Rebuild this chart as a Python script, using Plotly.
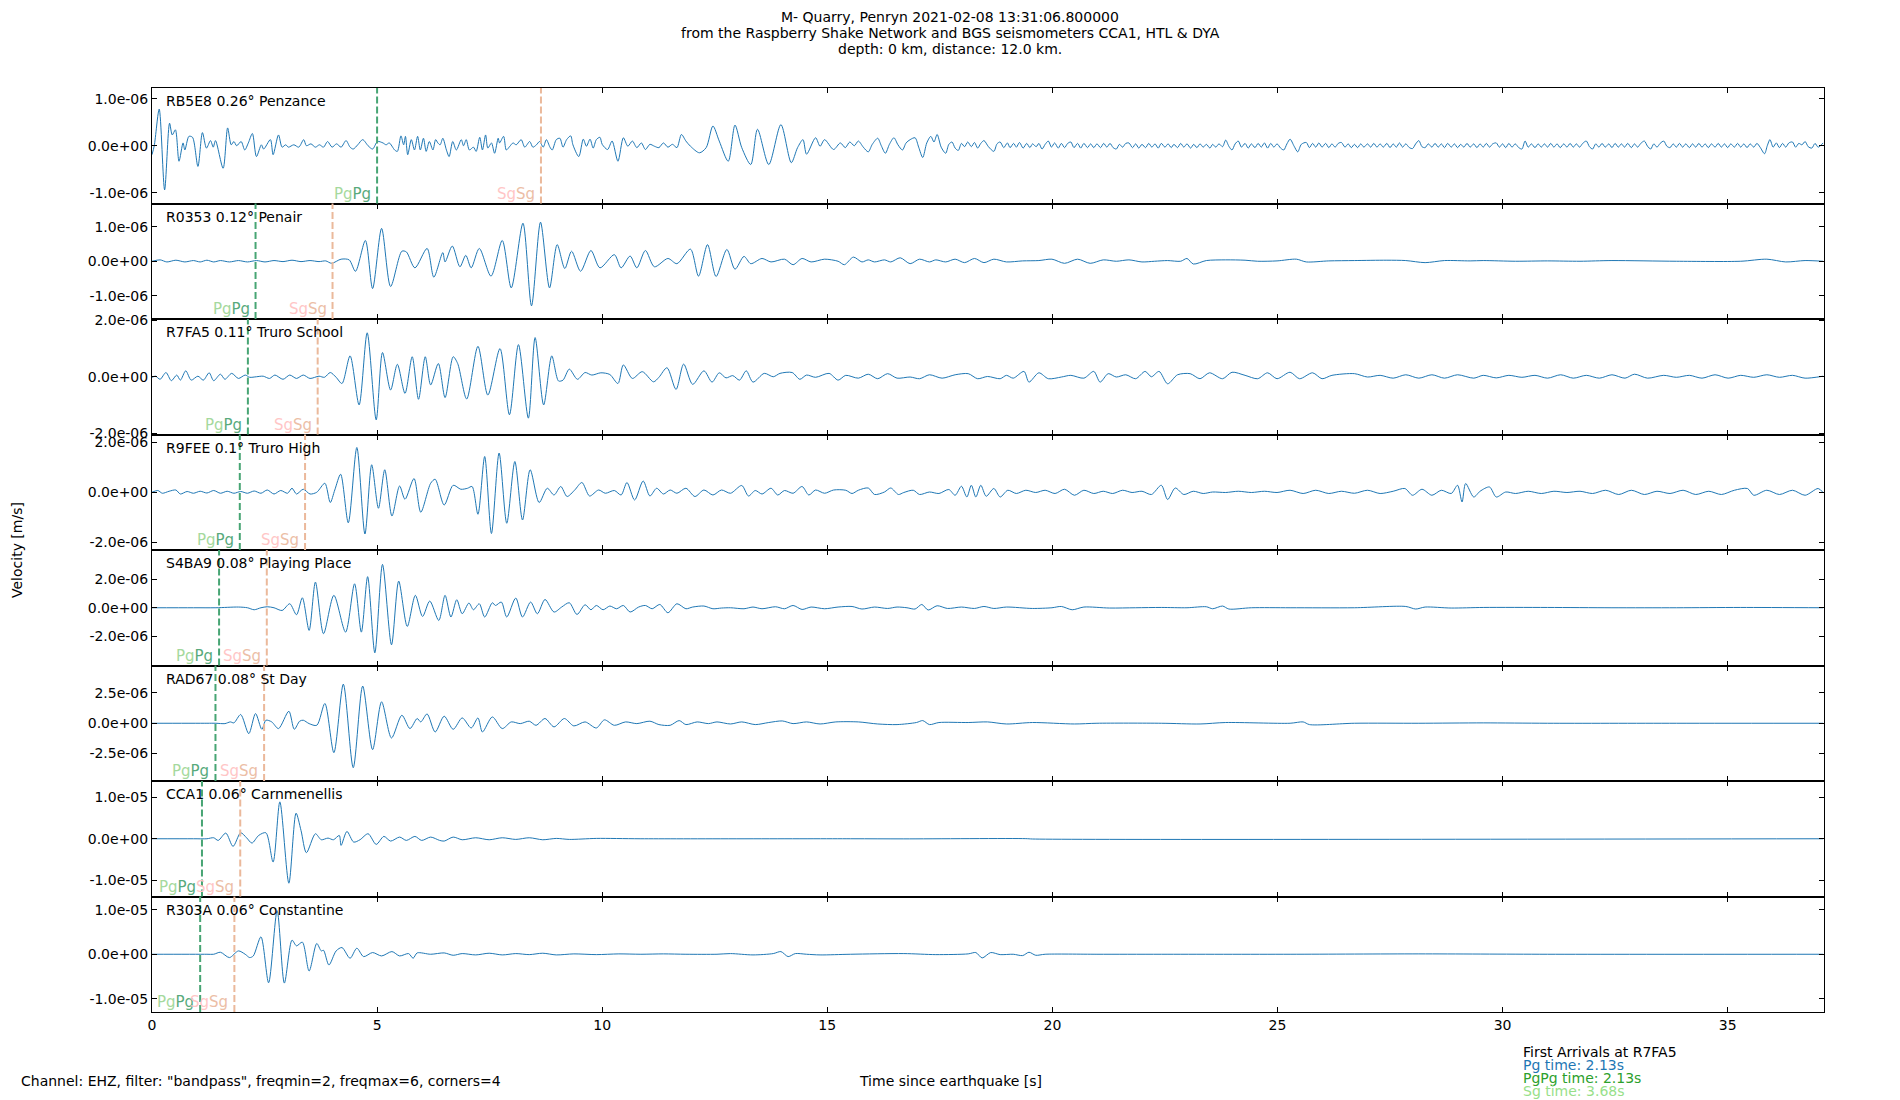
import plotly.graph_objects as go
from plotly.subplots import make_subplots

# velocity records, (time since earthquake [s], velocity [um/s])
rb5e8 = [(0.0, -0.19), (0.05, 0.0), (0.16, 0.78), (0.28, -0.94), (0.39, 0.48), (0.45, 0.23), (0.52, 0.34), (0.6, -0.33),
         (0.69, 0.06), (0.73, -0.09), (0.82, 0.2), (0.9, 0.18), (1.02, -0.44), (1.12, 0.28), (1.21, -0.05), (1.3, 0.11),
         (1.36, -0.03), (1.41, 0.11), (1.58, -0.48), (1.68, 0.38), (1.76, 0.02), (1.82, 0.09), (1.88, 0.0), (1.98, 0.09),
         (2.06, -0.09), (2.14, 0.06), (2.23, 0.26), (2.32, -0.23), (2.43, 0.02), (2.48, -0.07), (2.63, 0.13), (2.69, -0.19),
         (2.81, 0.23), (2.89, -0.03), (2.97, 0.02), (3.03, -0.03), (3.15, 0.02), (3.26, -0.03), (3.37, 0.13), (3.43, 0.0),
         (3.53, 0.04), (3.63, -0.03), (3.72, 0.02), (3.81, -0.03), (3.9, 0.09), (4.0, -0.03), (4.1, 0.04), (4.2, -0.03),
         (4.31, 0.11), (4.4, -0.03), (4.47, -0.07), (4.57, 0.02), (4.68, 0.13), (4.8, 0.0), (4.9, -0.07), (5.01, 0.09),
         (5.13, 0.06), (5.2, 0.02), (5.27, 0.06), (5.39, -0.09), (5.45, -0.12), (5.53, 0.21), (5.59, 0.02), (5.63, 0.2),
         (5.68, -0.19), (5.76, 0.13), (5.83, -0.09), (5.9, 0.2), (5.96, -0.09), (6.03, 0.16), (6.09, -0.12), (6.16, 0.09),
         (6.24, -0.09), (6.3, 0.13), (6.35, 0.06), (6.4, 0.02), (6.46, 0.16), (6.54, -0.09), (6.6, -0.23), (6.68, 0.09),
         (6.76, -0.09), (6.87, 0.13), (6.92, 0.0), (6.98, 0.13), (7.05, -0.09), (7.14, -0.03), (7.2, -0.12), (7.28, 0.18),
         (7.34, -0.09), (7.41, 0.23), (7.46, -0.05), (7.54, 0.06), (7.61, -0.16), (7.69, 0.16), (7.72, 0.06), (7.81, 0.2),
         (7.87, -0.09), (7.95, -0.01), (8.02, 0.06), (8.09, 0.02), (8.2, 0.13), (8.28, -0.03), (8.39, 0.09), (8.46, -0.03),
         (8.54, 0.02), (8.61, 0.09), (8.69, -0.03), (8.76, 0.13), (8.84, -0.03), (8.89, -0.09), (8.98, 0.13), (9.06, 0.16),
         (9.13, -0.03), (9.21, 0.13), (9.3, 0.21), (9.35, 0.02), (9.48, -0.23), (9.58, 0.14), (9.65, -0.01), (9.73, 0.14),
         (9.8, -0.05), (9.87, 0.13), (9.95, 0.18), (10.0, 0.03), (10.12, -0.08), (10.22, 0.1), (10.35, -0.33), (10.47, 0.17),
         (10.57, -0.01), (10.67, 0.1), (10.77, -0.04), (10.87, 0.06), (10.96, -0.08), (11.06, 0.03), (11.16, -0.01),
         (11.26, -0.04), (11.36, 0.06), (11.46, -0.03), (11.56, 0.03), (11.66, -0.04), (11.76, 0.24), (11.86, 0.1),
         (11.96, -0.01), (12.16, -0.15), (12.31, -0.04), (12.46, 0.42), (12.6, 0.1), (12.8, -0.33), (12.95, 0.44),
         (13.1, -0.04), (13.3, -0.4), (13.45, 0.35), (13.7, -0.4), (13.97, 0.45), (14.2, -0.36), (14.34, -0.04),
         (14.46, 0.13), (14.54, -0.18), (14.74, 0.17), (14.84, -0.01), (14.94, 0.13), (15.14, -0.08), (15.29, 0.06),
         (15.4, -0.04), (15.5, 0.08), (15.6, 0.0), (15.69, 0.1), (15.8, -0.03), (15.91, -0.13), (16.0, 0.03), (16.12, 0.16),
         (16.2, 0.0), (16.29, -0.16), (16.38, 0.03), (16.48, 0.17), (16.57, 0.02), (16.67, -0.09), (16.75, 0.06),
         (16.84, 0.13), (16.95, 0.17), (17.03, -0.03), (17.12, -0.25), (17.21, 0.06), (17.3, 0.2), (17.37, 0.08),
         (17.44, 0.24), (17.53, -0.03), (17.63, -0.16), (17.7, 0.03), (17.77, 0.08), (17.84, -0.05), (17.91, -0.1),
         (17.98, 0.05), (18.05, -0.02), (18.12, 0.08), (18.2, -0.02), (18.27, 0.07), (18.34, -0.05), (18.41, 0.05),
         (18.48, 0.11), (18.58, -0.02), (18.7, -0.12), (18.77, 0.04), (18.84, 0.08), (18.92, -0.04), (19.0, 0.06),
         (19.06, -0.04), (19.14, 0.05), (19.2, -0.03), (19.27, 0.07), (19.35, -0.05), (19.43, 0.05), (19.5, -0.04),
         (19.56, 0.04), (19.64, -0.02), (19.7, 0.05), (19.77, -0.07), (19.84, 0.03), (19.91, 0.1), (19.98, -0.03),
         (20.05, 0.06), (20.13, -0.05), (20.2, 0.05), (20.27, -0.04), (20.34, 0.05), (20.41, 0.08), (20.48, -0.04),
         (20.56, 0.05), (20.63, -0.05), (20.7, 0.05), (20.78, -0.04), (20.85, 0.04), (20.92, -0.04), (20.99, 0.04),
         (21.07, -0.04), (21.14, 0.05), (21.21, -0.03), (21.28, 0.05), (21.35, -0.04), (21.42, -0.07), (21.49, 0.03),
         (21.56, -0.03), (21.63, 0.05), (21.7, 0.06), (21.78, -0.04), (21.85, 0.04), (21.92, -0.05), (21.99, 0.03),
         (22.07, -0.04), (22.14, 0.05), (22.21, -0.03), (22.28, 0.04), (22.35, -0.05), (22.42, 0.05), (22.5, -0.03),
         (22.57, 0.04), (22.64, -0.04), (22.7, 0.03), (22.78, -0.04), (22.85, 0.05), (22.92, -0.03), (22.99, 0.04),
         (23.07, -0.05), (23.14, 0.03), (23.21, -0.04), (23.28, 0.04), (23.35, -0.03), (23.42, 0.03), (23.5, -0.05),
         (23.56, 0.03), (23.63, -0.03), (23.7, 0.04), (23.78, -0.02), (23.85, 0.12), (23.92, -0.01), (23.99, -0.09),
         (24.06, 0.04), (24.13, 0.1), (24.2, -0.03), (24.28, 0.05), (24.35, -0.05), (24.42, 0.04), (24.5, -0.04),
         (24.57, 0.05), (24.64, -0.03), (24.71, 0.06), (24.78, -0.05), (24.85, 0.05), (24.92, -0.03), (24.99, 0.04),
         (25.07, -0.05), (25.14, -0.09), (25.21, 0.04), (25.28, 0.14), (25.37, -0.01), (25.45, -0.13), (25.53, 0.03),
         (25.64, 0.07), (25.71, -0.04), (25.78, 0.05), (25.85, -0.03), (25.92, 0.06), (25.99, -0.03), (26.07, 0.05),
         (26.14, -0.04), (26.21, 0.04), (26.28, -0.03), (26.35, 0.05), (26.42, 0.07), (26.5, -0.03), (26.57, 0.04),
         (26.64, -0.04), (26.71, 0.03), (26.78, -0.04), (26.85, 0.04), (26.92, -0.03), (27.0, 0.04), (27.07, -0.03),
         (27.14, 0.05), (27.21, -0.03), (27.28, 0.04), (27.35, -0.03), (27.43, 0.05), (27.5, -0.04), (27.57, 0.04),
         (27.64, -0.03), (27.71, 0.06), (27.78, -0.03), (27.85, 0.04), (27.93, -0.04), (28.0, -0.06), (28.07, 0.04),
         (28.14, 0.11), (28.21, -0.02), (28.28, -0.04), (28.35, 0.04), (28.43, -0.03), (28.5, 0.05), (28.57, -0.03),
         (28.64, 0.04), (28.71, -0.04), (28.78, 0.05), (28.86, -0.03), (28.93, 0.04), (29.0, -0.04), (29.07, 0.03),
         (29.14, -0.03), (29.21, 0.05), (29.28, -0.03), (29.36, 0.04), (29.43, -0.04), (29.5, 0.04), (29.57, -0.03),
         (29.64, 0.05), (29.71, -0.03), (29.78, 0.04), (29.86, 0.06), (29.93, -0.03), (30.0, 0.04), (30.07, -0.04),
         (30.14, 0.05), (30.21, -0.03), (30.28, 0.04), (30.36, -0.04), (30.43, -0.07), (30.5, 0.1), (30.57, -0.03),
         (30.64, 0.04), (30.72, -0.04), (30.79, 0.04), (30.86, -0.03), (30.93, 0.04), (31.0, -0.03), (31.07, 0.05),
         (31.14, -0.03), (31.21, 0.04), (31.28, -0.04), (31.36, 0.04), (31.43, -0.03), (31.5, 0.05), (31.57, -0.03),
         (31.64, 0.04), (31.71, -0.03), (31.78, 0.05), (31.86, 0.1), (31.93, -0.02), (32.0, -0.07), (32.07, 0.04),
         (32.14, -0.03), (32.21, 0.05), (32.28, -0.03), (32.36, 0.04), (32.43, -0.04), (32.5, 0.05), (32.57, -0.03),
         (32.64, 0.04), (32.71, -0.03), (32.78, 0.05), (32.86, -0.04), (32.93, 0.04), (33.0, -0.03), (33.07, 0.05),
         (33.15, 0.1), (33.22, -0.01), (33.29, -0.07), (33.36, 0.04), (33.43, -0.03), (33.5, 0.05), (33.58, 0.1),
         (33.65, -0.01), (33.72, -0.04), (33.79, 0.04), (33.86, -0.03), (33.93, 0.05), (34.0, -0.03), (34.07, 0.04),
         (34.15, -0.04), (34.22, 0.04), (34.29, -0.03), (34.36, 0.05), (34.43, -0.03), (34.5, 0.04), (34.57, -0.04),
         (34.64, 0.04), (34.72, -0.03), (34.79, 0.05), (34.86, -0.03), (34.93, 0.04), (35.0, -0.04), (35.07, 0.04),
         (35.15, -0.03), (35.22, 0.05), (35.29, -0.03), (35.36, 0.04), (35.43, -0.04), (35.5, 0.04), (35.58, -0.03),
         (35.65, 0.05), (35.72, -0.03), (35.82, -0.17), (35.88, 0.0), (35.94, 0.13), (36.01, -0.03), (36.08, 0.06),
         (36.15, -0.04), (36.22, 0.05), (36.29, -0.03), (36.36, 0.06), (36.44, 0.08), (36.51, -0.03), (36.58, 0.05),
         (36.65, 0.02), (36.72, 0.09), (36.79, -0.02), (36.87, -0.05), (36.94, 0.05), (37.01, -0.03), (37.12, 0.06)]

r0353 = [(0.0, 0.0), (0.18, 0.04), (0.33, -0.02), (0.53, 0.03), (0.73, -0.02), (0.92, 0.02), (1.07, -0.02), (1.22, 0.03),
         (1.37, -0.02), (1.52, 0.02), (1.72, -0.02), (1.92, 0.02), (2.12, -0.02), (2.32, 0.02), (2.51, -0.02), (2.71, 0.02),
         (2.91, -0.01), (3.11, 0.03), (3.31, -0.01), (3.51, 0.02), (3.71, -0.01), (3.86, 0.01), (3.99, -0.06), (4.2, 0.06),
         (4.38, 0.04), (4.52, -0.29), (4.74, 0.6), (4.9, -0.79), (5.1, 0.95), (5.3, -0.73), (5.55, 0.29), (5.65, 0.27),
         (5.84, -0.19), (6.11, 0.37), (6.26, -0.46), (6.46, 0.25), (6.51, -0.02), (6.67, 0.44), (6.84, -0.16), (6.97, 0.17),
         (7.09, -0.19), (7.27, 0.37), (7.53, -0.43), (7.78, 0.6), (7.98, -0.77), (8.24, 1.1), (8.43, -1.29), (8.63, 1.13),
         (8.83, -0.77), (9.0, 0.48), (9.17, -0.21), (9.32, 0.29), (9.52, -0.29), (9.75, 0.31), (9.95, -0.19), (10.27, 0.19),
         (10.42, -0.19), (10.62, 0.15), (10.77, -0.19), (10.96, 0.31), (11.16, -0.16), (11.46, 0.08), (11.66, -0.07),
         (11.96, 0.35), (12.14, -0.43), (12.34, 0.48), (12.53, -0.44), (12.77, 0.34), (12.95, -0.23), (13.15, 0.14),
         (13.3, -0.07), (13.55, 0.08), (13.75, -0.02), (14.05, 0.06), (14.24, -0.1), (14.44, 0.08), (14.64, -0.02),
         (14.94, 0.06), (15.24, 0.0), (15.38, -0.1), (15.58, 0.12), (15.77, -0.02), (15.91, 0.04), (16.05, -0.02),
         (16.27, 0.04), (16.41, -0.02), (16.62, 0.1), (16.84, -0.07), (17.05, 0.06), (17.27, -0.02), (17.41, 0.04),
         (17.63, -0.02), (17.84, 0.06), (18.05, -0.04), (18.27, 0.08), (18.48, -0.04), (18.7, 0.06), (18.98, -0.02),
         (19.34, 0.01), (19.7, 0.02), (19.99, 0.06), (20.27, -0.06), (20.56, 0.06), (20.84, -0.06), (21.13, 0.04),
         (21.42, 0.0), (21.7, 0.04), (21.99, -0.02), (22.27, 0.0), (22.56, 0.02), (22.85, 0.0), (22.99, 0.08),
         (23.13, -0.08), (23.42, 0.02), (23.85, 0.04), (24.28, 0.03), (24.56, 0.0), (24.99, 0.01), (25.42, 0.06),
         (25.64, -0.02), (26.14, 0.01), (26.71, 0.02), (27.43, 0.03), (27.85, 0.02), (28.28, -0.04), (28.71, 0.02),
         (29.28, 0.01), (29.57, 0.02), (30.29, 0.0), (31.0, 0.01), (31.72, 0.0), (32.43, 0.02), (33.86, 0.0),
         (35.29, 0.0), (35.87, 0.06), (36.29, -0.02), (36.72, 0.02), (37.12, 0.0)]

r7fa5 = [(0.0, -0.02), (0.08, 0.02), (0.18, -0.09), (0.31, 0.15), (0.43, -0.14), (0.55, 0.06), (0.63, -0.12), (0.75, 0.21),
         (0.87, -0.12), (1.02, 0.02), (1.14, -0.12), (1.27, 0.14), (1.37, -0.14), (1.52, 0.09), (1.62, -0.09), (1.77, 0.12),
         (1.92, -0.06), (2.07, 0.06), (2.17, -0.02), (2.32, 0.0), (2.47, 0.02), (2.61, -0.06), (2.73, 0.06), (2.91, -0.09),
         (3.06, 0.06), (3.21, -0.06), (3.36, 0.06), (3.51, -0.06), (3.71, 0.02), (3.83, -0.02), (3.96, 0.15), (4.09, -0.02),
         (4.22, -0.24), (4.4, 0.74), (4.6, -1.0), (4.78, 1.56), (4.98, -1.53), (5.12, 0.86), (5.3, -0.47), (5.45, 0.44),
         (5.62, -0.59), (5.78, 0.71), (5.92, -0.8), (6.07, 0.71), (6.19, -0.29), (6.36, 0.47), (6.51, -0.74), (6.69, 0.71),
         (6.79, 0.47), (6.99, -0.79), (7.24, 1.08), (7.46, -0.65), (7.73, 1.0), (7.94, -1.35), (8.14, 1.14), (8.36, -1.47),
         (8.51, 1.39), (8.7, -1.0), (8.88, 0.74), (9.03, -0.15), (9.13, -0.12), (9.27, 0.27), (9.45, -0.09), (9.62, 0.15),
         (9.77, 0.06), (9.97, 0.14), (10.17, 0.08), (10.35, -0.24), (10.47, 0.42), (10.67, -0.06), (10.89, 0.18),
         (11.14, -0.18), (11.26, -0.02), (11.44, 0.32), (11.64, -0.45), (11.81, 0.45), (12.01, -0.27), (12.26, 0.21),
         (12.44, -0.19), (12.6, 0.14), (12.75, -0.04), (12.9, 0.04), (13.05, -0.12), (13.2, 0.21), (13.35, -0.19),
         (13.6, 0.12), (13.8, 0.0), (13.95, 0.12), (14.22, 0.15), (14.39, -0.09), (14.54, 0.06), (14.74, -0.02),
         (15.04, 0.12), (15.24, -0.12), (15.41, 0.05), (15.69, -0.05), (15.91, 0.09), (16.12, -0.07), (16.34, 0.11),
         (16.55, -0.05), (16.84, -0.01), (17.05, -0.07), (17.27, 0.07), (17.55, -0.05), (17.84, 0.07), (18.13, 0.11),
         (18.34, -0.07), (18.56, 0.01), (18.84, -0.07), (18.98, 0.05), (19.13, -0.05), (19.37, 0.19), (19.48, -0.19),
         (19.7, 0.14), (19.91, -0.07), (20.2, -0.01), (20.41, 0.05), (20.7, -0.05), (20.92, 0.19), (21.06, -0.19),
         (21.24, 0.11), (21.42, -0.01), (21.63, 0.07), (21.85, -0.07), (22.06, 0.19), (22.2, 0.0), (22.37, 0.19),
         (22.56, -0.25), (22.78, 0.07), (23.06, 0.11), (23.28, -0.07), (23.49, 0.14), (23.78, -0.07), (23.99, 0.16),
         (24.28, 0.05), (24.56, -0.07), (24.78, 0.14), (24.99, -0.07), (25.28, 0.16), (25.49, -0.07), (25.78, 0.14),
         (25.99, -0.07), (26.21, 0.05), (26.71, 0.11), (27.0, -0.01), (27.28, 0.05), (27.57, -0.05), (27.85, 0.07),
         (28.14, -0.05), (28.43, 0.07), (28.71, -0.05), (29.0, 0.07), (29.36, -0.05), (29.57, 0.05), (29.86, -0.04),
         (30.14, 0.05), (30.43, -0.02), (30.72, 0.05), (31.0, -0.05), (31.29, 0.07), (31.57, -0.05), (31.86, 0.05),
         (32.15, -0.05), (32.43, 0.07), (32.72, -0.05), (32.93, 0.09), (33.22, -0.05), (33.58, 0.05), (33.86, -0.02),
         (34.15, 0.05), (34.43, -0.05), (34.72, 0.07), (35.01, -0.05), (35.29, 0.05), (35.58, -0.02), (35.87, 0.07),
         (36.15, -0.02), (36.44, 0.05), (36.72, -0.05), (37.12, 0.02)]

r9fee = [(0.0, 0.0), (0.13, 0.07), (0.23, -0.04), (0.38, 0.04), (0.53, 0.09), (0.63, -0.07), (0.78, 0.03), (0.92, -0.04),
         (1.07, 0.04), (1.22, -0.03), (1.37, 0.07), (1.52, -0.04), (1.67, 0.04), (1.82, -0.04), (1.97, 0.03), (2.12, -0.04),
         (2.27, 0.05), (2.42, -0.04), (2.56, 0.09), (2.71, -0.07), (2.86, 0.07), (3.01, -0.04), (3.11, 0.16), (3.21, -0.07),
         (3.36, 0.12), (3.51, -0.07), (3.66, 0.0), (3.84, 0.36), (3.96, -0.41), (4.06, 0.09), (4.19, 0.72), (4.36, -1.22),
         (4.55, 1.79), (4.73, -1.67), (4.88, 1.1), (5.03, -0.64), (5.17, 0.9), (5.33, -0.95), (5.5, 0.25), (5.62, -0.28),
         (5.82, 0.55), (5.97, -0.8), (6.19, 0.36), (6.29, 0.52), (6.49, -0.51), (6.69, 0.28), (6.86, 0.12), (7.01, 0.16),
         (7.11, 0.23), (7.24, -0.88), (7.39, 1.43), (7.54, -1.65), (7.71, 1.57), (7.88, -1.24), (8.06, 1.23), (8.23, -1.11),
         (8.4, 0.9), (8.6, -0.41), (8.78, 0.16), (8.93, -0.11), (9.08, 0.23), (9.22, -0.17), (9.39, 0.09), (9.55, 0.39),
         (9.72, -0.15), (9.92, 0.09), (10.07, -0.04), (10.27, 0.07), (10.42, -0.11), (10.55, 0.39), (10.72, -0.31),
         (10.91, 0.45), (11.06, -0.15), (11.21, 0.16), (11.36, -0.07), (11.51, 0.09), (11.66, -0.04), (11.86, 0.16),
         (12.06, -0.17), (12.26, 0.09), (12.46, -0.11), (12.65, 0.09), (12.85, -0.04), (13.1, 0.27), (13.25, -0.15),
         (13.4, 0.07), (13.55, -0.07), (13.75, 0.16), (13.9, -0.11), (14.05, 0.07), (14.24, -0.04), (14.44, 0.23),
         (14.59, -0.11), (14.74, 0.09), (14.94, -0.04), (15.14, 0.09), (15.41, 0.08), (15.55, -0.05), (15.69, 0.08),
         (15.91, 0.17), (16.05, -0.09), (16.27, 0.01), (16.41, 0.17), (16.58, -0.09), (16.7, -0.01), (16.91, 0.08),
         (17.05, -0.09), (17.27, 0.01), (17.48, -0.05), (17.7, 0.11), (17.84, -0.12), (17.98, 0.24), (18.1, -0.19),
         (18.2, 0.28), (18.3, -0.19), (18.41, 0.28), (18.53, -0.16), (18.7, 0.15), (18.84, -0.19), (19.01, 0.08),
         (19.2, -0.05), (19.41, 0.08), (19.63, -0.01), (19.84, 0.08), (20.06, -0.05), (20.27, 0.12), (20.49, -0.12),
         (20.7, 0.08), (20.92, -0.05), (21.13, 0.04), (21.34, -0.05), (21.56, 0.08), (21.77, -0.01), (21.99, 0.04),
         (22.2, -0.09), (22.42, 0.28), (22.56, -0.29), (22.73, 0.17), (22.92, -0.09), (23.13, 0.04), (23.35, -0.05),
         (23.56, 0.01), (23.85, -0.01), (24.13, 0.04), (24.42, -0.01), (24.71, 0.04), (24.99, -0.01), (25.28, 0.08),
         (25.57, -0.05), (25.85, 0.08), (26.14, -0.05), (26.42, 0.04), (26.71, -0.04), (27.0, 0.08), (27.28, -0.05),
         (27.57, 0.04), (27.83, 0.15), (28.0, -0.12), (28.21, 0.12), (28.43, -0.12), (28.64, 0.08), (28.86, -0.05),
         (29.0, 0.28), (29.1, -0.39), (29.18, 0.35), (29.36, -0.19), (29.5, 0.04), (29.71, 0.21), (29.86, -0.19),
         (30.07, 0.01), (30.29, -0.05), (30.57, 0.04), (30.86, -0.05), (31.14, 0.04), (31.43, -0.01), (31.72, 0.04),
         (32.0, -0.05), (32.29, 0.08), (32.58, -0.09), (32.86, 0.08), (33.15, -0.09), (33.43, 0.04), (33.72, -0.05),
         (34.01, 0.08), (34.29, -0.09), (34.58, 0.04), (34.86, -0.09), (35.15, 0.08), (35.44, 0.15), (35.58, -0.12),
         (35.87, 0.08), (36.15, -0.09), (36.44, 0.08), (36.72, -0.12), (37.01, 0.15), (37.12, -0.01)]

s4ba9 = [(0.0, 0.0), (0.92, 0.0), (1.42, 0.0), (1.92, 0.05), (2.12, 0.0), (2.27, -0.14), (2.42, 0.0), (2.56, 0.07),
         (2.71, 0.0), (2.89, -0.19), (3.06, 0.28), (3.21, -0.49), (3.34, 0.7), (3.49, -1.59), (3.63, 1.8), (3.81, -1.82),
         (4.04, 0.87), (4.3, -1.71), (4.5, 1.68), (4.65, -1.71), (4.79, 2.18), (4.95, -3.16), (5.12, 3.04), (5.32, -2.6),
         (5.48, 1.87), (5.67, -1.31), (5.85, 0.87), (6.01, -0.61), (6.17, 0.47), (6.37, -0.89), (6.51, 0.87), (6.64, -0.65),
         (6.77, 0.56), (6.89, -0.42), (7.04, 0.33), (7.14, -0.14), (7.27, 0.28), (7.39, -0.65), (7.56, 0.35), (7.63, 0.16),
         (7.76, 0.4), (7.88, -0.65), (8.08, 0.68), (8.23, -0.65), (8.41, 0.4), (8.56, -0.42), (8.73, 0.58), (8.93, -0.3),
         (9.1, 0.05), (9.27, 0.35), (9.44, -0.47), (9.62, 0.21), (9.75, -0.14), (9.87, 0.16), (10.02, -0.14), (10.17, 0.12),
         (10.32, -0.07), (10.47, 0.16), (10.62, -0.3), (10.81, 0.05), (10.96, 0.16), (11.11, -0.07), (11.28, 0.23),
         (11.46, -0.35), (11.66, 0.28), (11.86, -0.07), (12.01, 0.05), (12.26, 0.12), (12.46, -0.07), (12.65, -0.02),
         (12.85, 0.0), (13.15, -0.07), (13.35, 0.05), (13.55, -0.07), (13.85, 0.07), (14.05, -0.07), (14.24, 0.16),
         (14.44, -0.12), (14.64, 0.05), (14.94, -0.07), (15.24, 0.05), (15.55, 0.09), (15.77, -0.09), (16.05, 0.05),
         (16.34, -0.05), (16.55, 0.05), (16.77, 0.0), (16.95, -0.09), (17.1, 0.23), (17.24, -0.16), (17.44, 0.14),
         (17.67, -0.05), (17.98, 0.05), (18.27, -0.05), (18.48, 0.09), (18.7, -0.05), (18.98, 0.05), (19.56, -0.05),
         (19.99, 0.0), (20.2, 0.09), (20.44, -0.14), (20.7, 0.05), (21.27, -0.02), (21.85, 0.0), (22.42, 0.02),
         (22.99, 0.0), (23.42, 0.07), (23.56, -0.07), (23.78, 0.12), (23.92, -0.09), (24.42, 0.0), (25.28, 0.0),
         (26.71, 0.0), (27.85, 0.09), (28.07, -0.09), (28.28, 0.05), (28.86, -0.02), (29.57, 0.02), (31.0, 0.02),
         (32.43, 0.0), (33.86, 0.0), (35.29, 0.02), (37.12, 0.0)]

rad67 = [(0.0, 0.0), (1.22, 0.0), (1.42, 0.0), (1.62, -0.03), (1.74, 0.11), (1.82, 0.03), (1.97, 0.72), (2.15, -0.86),
         (2.3, 0.8), (2.44, -0.5), (2.53, 0.25), (2.66, 0.11), (2.81, -0.44), (3.04, 0.99), (3.16, -0.5), (3.28, 0.17),
         (3.36, 0.25), (3.49, -0.03), (3.66, -0.17), (3.84, 1.63), (4.04, -2.43), (4.25, 3.23), (4.47, -3.67), (4.68, 3.07),
         (4.9, -2.18), (5.1, 1.77), (5.32, -1.22), (5.55, 0.66), (5.73, -0.44), (5.89, 0.39), (5.97, 0.11), (6.11, 0.77),
         (6.29, -0.72), (6.49, 0.58), (6.69, -0.5), (6.89, 0.44), (7.09, -0.39), (7.24, 0.44), (7.34, -0.72), (7.56, 0.52),
         (7.78, -0.44), (7.98, 0.11), (8.18, -0.03), (8.38, 0.17), (8.53, -0.17), (8.73, 0.39), (8.93, -0.3), (9.16, 0.39),
         (9.37, -0.22), (9.62, 0.11), (9.87, -0.39), (10.05, 0.28), (10.27, -0.17), (10.52, 0.11), (10.77, -0.03),
         (11.06, 0.17), (11.26, -0.11), (11.51, -0.17), (11.71, 0.22), (11.86, -0.11), (12.11, 0.11), (12.36, -0.03),
         (12.55, 0.11), (12.85, -0.06), (13.1, 0.11), (13.4, -0.11), (13.7, 0.06), (14.0, 0.19), (14.24, -0.03),
         (14.54, 0.11), (14.84, -0.06), (15.19, 0.11), (15.69, 0.11), (16.12, -0.06), (16.55, -0.11), (16.98, 0.06),
         (17.12, 0.22), (17.27, -0.11), (17.48, 0.06), (18.13, 0.06), (18.56, 0.11), (18.98, -0.06), (19.56, 0.06),
         (20.49, -0.06), (20.99, 0.0), (22.42, 0.0), (23.28, -0.06), (23.85, 0.06), (25.28, 0.0), (25.57, 0.11),
         (25.71, -0.11), (26.71, 0.0), (28.14, 0.0), (29.57, 0.03), (31.0, 0.0), (33.86, 0.0), (37.12, 0.0)]

cca1 = [(0.0, 0.0), (0.92, 0.0), (1.22, 0.0), (1.37, 0.24), (1.47, -0.4), (1.64, 1.36), (1.8, -1.84), (1.97, 1.44),
        (2.1, 0.24), (2.22, -1.04), (2.37, 0.8), (2.53, 1.44), (2.69, -5.6), (2.84, 8.88), (3.04, -10.7), (3.2, 6.16),
        (3.31, 2.0), (3.43, -3.36), (3.63, 1.2), (3.76, -0.24), (3.91, 0.16), (4.03, -0.24), (4.16, 0.8), (4.2, -1.6),
        (4.33, 1.76), (4.48, -0.8), (4.62, -0.24), (4.8, 1.2), (4.98, -1.36), (5.15, 0.56), (5.3, -0.56), (5.5, 0.4),
        (5.65, -0.4), (5.84, 0.56), (5.99, -0.4), (6.19, 0.4), (6.39, -0.4), (6.49, -0.56), (6.69, 0.4), (6.89, -0.24),
        (7.19, 0.24), (7.49, -0.24), (7.78, 0.24), (8.08, -0.16), (8.38, 0.24), (8.68, -0.24), (8.98, 0.08), (9.27, -0.16),
        (9.87, 0.08), (10.86, 0.0), (15.52, 0.0), (16.7, -0.03), (19.41, 0.03), (19.56, -0.06), (37.12, 0.0)]

r303a = [(0.0, 0.0), (1.22, 0.0), (1.37, 0.0), (1.52, 0.45), (1.72, -0.75), (1.92, 0.75), (2.07, 0.0), (2.17, -0.75),
         (2.25, -0.38), (2.42, 3.92), (2.59, -6.42), (2.78, 9.81), (2.94, -6.49), (3.11, 3.17), (3.21, 1.89), (3.34, 2.72),
         (3.49, -3.77), (3.66, 2.42), (3.76, 0.75), (3.81, 0.9), (3.93, -2.42), (4.09, 0.75), (4.22, 1.51), (4.4, -0.9),
         (4.55, 1.36), (4.7, -0.53), (4.9, 0.38), (5.1, -0.38), (5.33, 0.6), (5.5, -0.38), (5.7, 0.15), (5.8, -0.9),
         (5.89, 0.3), (6.19, 0.0), (6.49, 0.3), (6.69, -0.23), (6.89, 0.15), (7.19, -0.15), (7.49, 0.23), (7.78, -0.15),
         (8.08, 0.15), (8.38, -0.08), (8.68, 0.23), (8.98, -0.15), (9.37, 0.08), (9.87, -0.08), (10.37, 0.08), (10.86, 0.0),
         (11.36, 0.08), (11.86, 0.0), (12.55, 0.0), (12.85, 0.15), (13.35, -0.15), (13.8, 0.15), (13.97, 0.6),
         (14.13, -0.53), (14.29, 0.15), (14.54, 0.0), (14.84, -0.15), (15.52, 0.0), (16.7, 0.15), (17.41, -0.08),
         (18.13, 0.08), (18.3, 0.38), (18.44, -0.83), (18.63, 0.38), (18.84, -0.08), (19.13, 0.0), (19.34, -0.3),
         (19.48, 0.45), (19.63, -0.23), (19.84, 0.0), (20.99, 0.0), (22.42, 0.0), (25.28, 0.0), (28.14, 0.08),
         (31.0, 0.0), (37.12, 0.0)]

records = [rb5e8, r0353, r7fa5, r9fee, s4ba9, rad67, cca1, r303a]
station_labels = ["RB5E8 0.26° Penzance", "R0353 0.12° Penair", "R7FA5 0.11° Truro School", "R9FEE 0.1° Truro High",
                  "S4BA9 0.08° Playing Place", "RAD67 0.08° St Day", "CCA1 0.06° Carnmenellis", "R303A 0.06° Constantine"]
pg_times = [5.0, 2.30, 2.13, 1.95, 1.49, 1.41, 1.11, 1.07]
sg_times = [8.64, 4.01, 3.68, 3.40, 2.55, 2.49, 1.96, 1.83]
y_limits = [1.23e-6, 1.67e-6, 2.05e-6, 2.31e-6, 4.05e-6, 4.77e-6, 1.39e-5, 1.30e-5]
y_steps = [1e-6, 1e-6, 2e-6, 2e-6, 2e-6, 2.5e-6, 1e-5, 1e-5]
x_max = 37.14

# page body adds an 8px offset, so the figure is drawn 8px smaller
W, H = 1900, 1100
L, R, T, B = 152, 76, 88, 88
OFF = 8


def px(x):
    return (x - L) / (W - L - R)


def py(y):
    return (H - B - y) / (H - T - B)


n = len(records)
fig = make_subplots(rows=n, cols=1, shared_xaxes=True, vertical_spacing=0)

for i in range(n):
    t = [p[0] for p in records[i]]
    v = [p[1] * 1e-6 for p in records[i]]
    fig.add_trace(go.Scatter(x=t, y=v, mode="lines",
                             line=dict(color="#1f77b4", width=1, shape="spline", smoothing=0.8),
                             hoverinfo="skip", showlegend=False), row=i + 1, col=1)
    s = y_steps[i]
    fig.update_yaxes(range=[-y_limits[i], y_limits[i]], tickvals=[-s, 0, s],
                     ticktext=[f"{-s:.1e}", f"{0:.1e}", f"{s:.1e}"], row=i + 1, col=1)

    k = "" if i == 0 else str(i + 1)
    # phase arrival lines
    fig.add_shape(type="line", xref="x" + k, yref="y" + k + " domain", x0=pg_times[i], x1=pg_times[i], y0=0, y1=1,
                  line=dict(color="#47a574", width=2, dash="7px,3px"))
    fig.add_shape(type="line", xref="x" + k, yref="y" + k + " domain", x0=sg_times[i], x1=sg_times[i], y0=0, y1=1,
                  line=dict(color="#ebb99b", width=2, dash="7px,3px"))
    fig.add_annotation(xref="x" + k, yref="y" + k + " domain", x=pg_times[i], y=0, xanchor="right", yanchor="bottom",
                       text="<span style='color:#a5d99d'>Pg</span><span style='color:#58aa7c'>Pg</span>",
                       showarrow=False, xshift=-4, yshift=-1, font=dict(size=15))
    fig.add_annotation(xref="x" + k, yref="y" + k + " domain", x=sg_times[i], y=0, xanchor="right", yanchor="bottom",
                       text="<span style='color:#ffc6c6'>Sg</span><span style='color:#ecbea6'>Sg</span>",
                       showarrow=False, xshift=-4, yshift=-1, font=dict(size=15))
    fig.add_annotation(xref="x" + k + " domain", yref="y" + k + " domain", x=12 / (W - L - R), y=1,
                       xanchor="left", yanchor="top", yshift=-3, text=station_labels[i], showarrow=False,
                       font=dict(size=14))

fig.update_xaxes(range=[0, x_max], tickvals=[0, 5, 10, 15, 20, 25, 30, 35], ticks="inside", ticklen=5,
                 showline=True, mirror="ticks", linecolor="black", linewidth=1, tickcolor="black",
                 showgrid=False, zeroline=False)
fig.update_yaxes(ticks="inside", ticklen=5, showline=True, mirror="ticks", linecolor="black", linewidth=1,
                 tickcolor="black", showgrid=False, zeroline=False)

title_lines = ["M- Quarry, Penryn 2021-02-08 13:31:06.800000",
               "from the Raspberry Shake Network and BGS seismometers CCA1, HTL & DYA",
               "depth: 0 km, distance: 12.0 km."]
for j, line in enumerate(title_lines):
    fig.add_annotation(xref="paper", yref="paper", x=px(950), y=py(17 + 16 * j), xanchor="center",
                       yanchor="middle", text=line, showarrow=False, font=dict(size=14))

fig.add_annotation(xref="paper", yref="paper", x=px(17), y=py(550), xanchor="center", yanchor="middle",
                   textangle=-90, text="Velocity [m/s]", showarrow=False, font=dict(size=14))
fig.add_annotation(xref="paper", yref="paper", x=px(950), y=py(1081), xanchor="center", yanchor="middle",
                   text="Time since earthquake [s]", showarrow=False, font=dict(size=14))
fig.add_annotation(xref="paper", yref="paper", x=px(19), y=py(1081), xanchor="left", yanchor="middle",
                   text='Channel: EHZ, filter: "bandpass", freqmin=2, freqmax=6, corners=4', showarrow=False,
                   font=dict(size=14))

arrivals = [("First Arrivals at R7FA5", "black"),
            (f"Pg time: {pg_times[2]:.2f}s", "#1f77b4"),
            (f"PgPg time: {pg_times[2]:.2f}s", "#2ca02c"),
            (f"Sg time: {sg_times[2]:.2f}s", "#98df8a")]
for j, (txt, col) in enumerate(arrivals):
    fig.add_annotation(xref="paper", yref="paper", x=px(1521), y=py(1052 + 13 * j), xanchor="left",
                       yanchor="middle", text=txt, showarrow=False, font=dict(size=14, color=col))

fig.update_layout(width=W - OFF, height=H - OFF, margin=dict(l=L - OFF, r=R, t=T - OFF, b=B),
                  plot_bgcolor="white", paper_bgcolor="white",
                  font=dict(family="DejaVu Sans", size=14, color="black"))

fig.write_html("out.html")
